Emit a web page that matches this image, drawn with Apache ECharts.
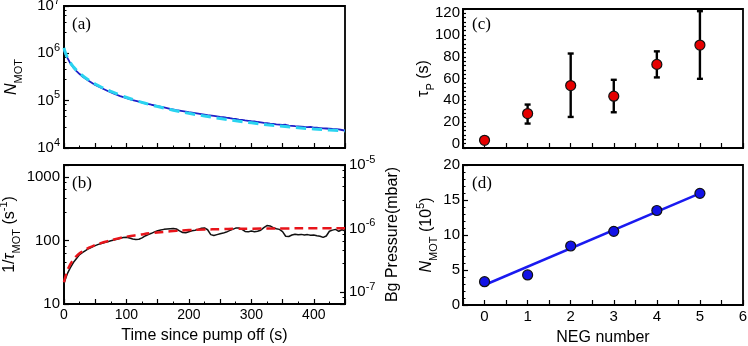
<!DOCTYPE html>
<html><head><meta charset="utf-8">
<script src="https://cdn.jsdelivr.net/npm/echarts@6/dist/echarts.min.js"></script>
<style>html,body{margin:0;padding:0;background:#fff}#c{width:748px;height:346px}</style>
</head><body><div id="c"></div>
<script>
// ---------- Panel (a): N_MOT vs time ----------
const tA = [0,2,5,10,15,20,25,30,40,50,60,70,80,90,100,110,120,130,140,150,160,170,180,190,200,210,220,230,240,250,255,260,265,270,275,280,285,290,295,300,305,310,315,320,325,330,335,340,345,350,355,360,365,370,375,380,385,390,395,400,405,410,415,420,425,430,433,436,440,445,450];
const nMotData = [1.15e6,9.8e5,8.2e5,6.2e5,5.0e5,4.2e5,3.65e5,3.2e5,2.6e5,2.15e5,1.85e5,1.6e5,1.4e5,1.25e5,1.13e5,1.03e5,9.5e4,8.8e4,8.2e4,7.7e4,7.2e4,6.7e4,6.3e4,6.0e4,5.7e4,5.45e4,5.2e4,4.95e4,4.75e4,4.55e4,4.48e4,4.38e4,4.3e4,4.18e4,4.1e4,3.98e4,3.93e4,3.84e4,3.76e4,3.68e4,3.64e4,3.54e4,3.47e4,3.4e4,3.36e4,3.28e4,3.24e4,3.17e4,3.12e4,3.06e4,3.1e4,2.97e4,2.93e4,2.89e4,2.86e4,2.83e4,2.78e4,2.77e4,2.8e4,2.7e4,2.68e4,2.64e4,2.6e4,2.58e4,2.55e4,2.52e4,2.75e4,2.5e4,2.47e4,2.4e4,2.33e4];
const tAFit = [0,2,5,10,15,20,25,30,40,50,60,75,90,110,130,150,175,200,225,250,275,300,325,350,375,400,425,450];
const nMotFit = [1.3e6,1.05e6,8.4e5,6.4e5,5.2e5,4.4e5,3.8e5,3.35e5,2.7e5,2.25e5,1.92e5,1.57e5,1.31e5,1.06e5,8.8e4,7.5e4,6.3e4,5.4e4,4.75e4,4.2e4,3.75e4,3.4e4,3.1e4,2.87e4,2.68e4,2.52e4,2.4e4,2.3e4];

// ---------- Panel (b): 1/tau_MOT vs time ----------
const tB = [0,3,6,10,15,20,25,30,35,40,45,50,55,60,65,70,75,80,85,90,95,100,105,110,115,120,125,130,135,140,145,150,155,160,165,170,175,180,185,190,195,200,205,210,215,220,225,230,235,240,245,250,255,260,265,270,275,280,285,290,295,300,305,310,315,320,325,330,335,340,345,350,355,360,365,370,375,380,385,390,395,400,405,410,415,420,425,430,435,440,445,450];
const invTau = [21,26,31,37,45,52,60,65,70,75,79,83,87,90,93,96,99,102,105,109,112,113,110,106,104,105,110,118,124,130,137,143,147,150,152,154,155,152,142,134,133,138,143,145,150,156,158,148,124,120,124,128,131,136,143,150,157,158,150,139,137,141,138,140,145,160,172,170,160,153,150,138,117,116,122,126,123,125,122,124,121,122,119,117,112,118,140,146,150,140,148,142];
const tBFit = [0,5,10,15,20,25,30,40,50,60,70,80,90,100,120,140,160,180,200,225,250,275,300,350,400,450];
const invTauFit = [22,33,42,50,57,63,68,77,85,92,98,104,110,115,123,131,137,142,146,149,151,153,154,155,156,156];

// ---------- Panel (c): tau_P vs NEG number ----------
const negNum = [0,1,2,3,4,5];
const tauP = [3.1,27.7,53.5,43.7,73,90.8];
const tauLow = [2.6,18.5,24.6,28.9,61,59.7];
const tauHigh = [3.6,36,83,58.8,85,122];

// ---------- Panel (d): N_MOT (1e5) vs NEG number ----------
const nMotNeg = [3.33,4.29,8.43,10.52,13.5,15.95];
const fitNegX = [0,5];
const fitNegY = [2.86,15.95];

// ---------- tick labels ----------
const xTicksB = [0,100,200,300,400];
const xTicksD = [0,1,2,3,4,5,6];
const yTicksC = [0,20,40,60,80,100,120];

const FONT = '"Liberation Sans", Arial, Helvetica, sans-serif';
const SERIF = '"Liberation Serif", "Times New Roman", serif';
const isPow = v => Math.abs(Math.log10(v) - Math.round(Math.log10(v))) < 1e-6;
const powLabel = v => isPow(v) ? '{b|10}{s|' + Math.round(Math.log10(v)) + '}' : '';
const richPow = {
  b:{fontSize:15, fontFamily:FONT, color:'#000', lineHeight:22, verticalAlign:'middle'},
  s:{fontSize:11, fontFamily:FONT, color:'#000', lineHeight:10, verticalAlign:'top'}
};
const richName = {
  n:{fontSize:16, fontFamily:FONT, color:'#000', lineHeight:24, verticalAlign:'middle'},
  i:{fontSize:16, fontFamily:FONT, fontStyle:'italic', color:'#000', lineHeight:24, verticalAlign:'middle'},
  sub:{fontSize:11, fontFamily:FONT, color:'#000', lineHeight:10, verticalAlign:'bottom'},
  sup:{fontSize:11, fontFamily:FONT, color:'#000', lineHeight:10, verticalAlign:'top'}
};

function ax(o) {
  const base = {
    nameMoveOverlap:false,
    axisLine:{show:true, onZero:false, lineStyle:{color:'#000', width:1.8}},
    axisTick:{show:true, inside:true, length:5, lineStyle:{color:'#000', width:1.2}},
    minorTick:{show:true, splitNumber:5, length:2.5, lineStyle:{color:'#000', width:1}},
    splitLine:{show:false},
    minorSplitLine:{show:false},
    axisLabel:{color:'#000', fontFamily:FONT, fontSize:14, margin:4},
    nameTextStyle:{color:'#000', fontFamily:FONT, fontSize:16}
  };
  for (const k in o) {
    if (base[k] && typeof base[k] === 'object' && typeof o[k] === 'object' && !Array.isArray(o[k])) base[k] = Object.assign({}, base[k], o[k]);
    else base[k] = o[k];
  }
  return base;
}
const gridStyle = {show:true, borderColor:'#000', borderWidth:1.8, backgroundColor:'transparent', containLabel:false, outerBoundsMode:'none'};

const option = {
  animation:false,
  backgroundColor:'#fff',
  grid:[
    Object.assign({left:64, top:6, width:281, height:142}, gridStyle),
    Object.assign({left:64, top:165, width:281, height:139}, gridStyle),
    Object.assign({left:463, top:9, width:280, height:139}, gridStyle),
    Object.assign({left:463, top:165, width:280, height:140}, gridStyle)
  ],
  xAxis:[
    ax({type:'value', gridIndex:0, min:0, max:450, interval:50, axisLabel:{show:false}, minorTick:{splitNumber:2}}),
    ax({type:'value', gridIndex:1, min:0, max:450, interval:50, minorTick:{splitNumber:2},
        axisLabel:{fontSize:14, margin:4, formatter:v => xTicksB.includes(v) ? String(v) : ''},
        name:'Time since pump off (s)', nameLocation:'middle', nameGap:24}),
    ax({type:'value', gridIndex:2, min:-0.5, max:6, interval:0.5, axisLabel:{show:false}, minorTick:{show:false}}),
    ax({type:'value', gridIndex:3, min:-0.5, max:6, interval:0.5, minorTick:{show:false},
        axisLabel:{fontSize:15, margin:4, formatter:v => xTicksD.includes(v) ? String(v) : ''},
        name:'NEG number', nameLocation:'middle', nameGap:25})
  ],
  yAxis:[
    ax({type:'log', logBase:10, gridIndex:0, min:1e4, max:1e7, minorTick:{splitNumber:5},
        axisLabel:{formatter:powLabel, rich:richPow, margin:4},
        name:'{i|N}{sub|MOT}', nameLocation:'middle', nameGap:40, nameTextStyle:{rich:richName}}),
    ax({type:'log', logBase:10, gridIndex:1, min:10, max:1550,
        axisLabel:{fontSize:15, margin:4, formatter:v => isPow(v) ? String(Math.round(v)) : ''},
        name:'{n|1/}{i|τ}{sub|MOT}{n| (s}{sup|-1}{n|)}', nameLocation:'middle', nameGap:42, nameTextStyle:{rich:richName}}),
    ax({type:'log', logBase:10, gridIndex:1, position:'right', min:6.5e-8, max:1e-5,
        axisLabel:{formatter:powLabel, rich:richPow, margin:4},
        name:'Bg Pressure(mbar)', nameLocation:'middle', nameGap:40}),
    ax({type:'value', gridIndex:2, min:-4, max:124, interval:4, minorTick:{show:false},
        axisTick:{length:3},
        axisLabel:{fontSize:15, margin:3, formatter:v => yTicksC.includes(v) ? String(v) : ''},
        name:'{n|τ}{sub|P}{n| (s)}', nameLocation:'middle', nameGap:27, nameTextStyle:{rich:richName}}),
    ax({type:'value', gridIndex:3, min:0, max:20, interval:5,
        axisLabel:{fontSize:15, margin:3},
        name:'{i|N}{sub|MOT}{n| (10}{sup|5}{n|)}', nameLocation:'middle', nameGap:24, nameTextStyle:{rich:richName}})
  ],
  graphic:[
    {type:'text', left:72, top:16, style:{text:'(a)', font:'17px ' + SERIF, fill:'#000'}},
    {type:'text', left:72, top:175, style:{text:'(b)', font:'17px ' + SERIF, fill:'#000'}},
    {type:'text', left:472, top:16, style:{text:'(c)', font:'17px ' + SERIF, fill:'#000'}},
    {type:'text', left:472, top:175, style:{text:'(d)', font:'17px ' + SERIF, fill:'#000'}}
  ],
  series:[
    {type:'line', xAxisIndex:0, yAxisIndex:0, showSymbol:false, z:2,
     data:tA.map((t,i)=>[t,nMotData[i]]), lineStyle:{color:'#1f1fc8', width:1.8}},
    {type:'line', xAxisIndex:0, yAxisIndex:0, showSymbol:false, smooth:true, z:3,
     data:tAFit.map((t,i)=>[t,nMotFit[i]]), lineStyle:{color:'#2ad4f0', width:3, type:[10,6]}},
    {type:'line', xAxisIndex:1, yAxisIndex:1, showSymbol:false, z:2,
     data:tB.map((t,i)=>[t,invTau[i]]), lineStyle:{color:'#111', width:1.5}},
    {type:'line', xAxisIndex:1, yAxisIndex:1, showSymbol:false, smooth:true, z:3,
     data:tBFit.map((t,i)=>[t,invTauFit[i]]), lineStyle:{color:'#e8141a', width:2.5, type:[9,5]}},
    {type:'custom', xAxisIndex:2, yAxisIndex:3, z:2,
     data:negNum.map((x,i)=>[x,tauLow[i],tauHigh[i]]),
     encode:{x:0, y:[1,2]},
     renderItem:(params, api) => {
       const x = api.value(0), lo = api.value(1), hi = api.value(2);
       const a = api.coord([x, lo]), b = api.coord([x, hi]);
       const c = 3, st = {stroke:'#000', lineWidth:2.4};
       return {type:'group', children:[
         {type:'line', shape:{x1:a[0], y1:a[1], x2:b[0], y2:b[1]}, style:st},
         {type:'line', shape:{x1:a[0]-c, y1:a[1], x2:a[0]+c, y2:a[1]}, style:st},
         {type:'line', shape:{x1:b[0]-c, y1:b[1], x2:b[0]+c, y2:b[1]}, style:st}
       ]};
     }},
    {type:'scatter', xAxisIndex:2, yAxisIndex:3, z:4, symbolSize:10,
     data:negNum.map((x,i)=>[x,tauP[i]]),
     itemStyle:{color:'#e60000', borderColor:'#111', borderWidth:1.2, opacity:1}},
    {type:'line', xAxisIndex:3, yAxisIndex:4, showSymbol:false, z:2,
     data:fitNegX.map((x,i)=>[x,fitNegY[i]]), lineStyle:{color:'#1a1af0', width:2.5}},
    {type:'scatter', xAxisIndex:3, yAxisIndex:4, z:4, symbolSize:10,
     data:negNum.map((x,i)=>[x,nMotNeg[i]]),
     itemStyle:{color:'#1212e6', borderColor:'#111', borderWidth:1.2, opacity:1}}
  ]
};
const chart = echarts.init(document.getElementById('c'));
chart.setOption(option);
</script>
</body></html>
